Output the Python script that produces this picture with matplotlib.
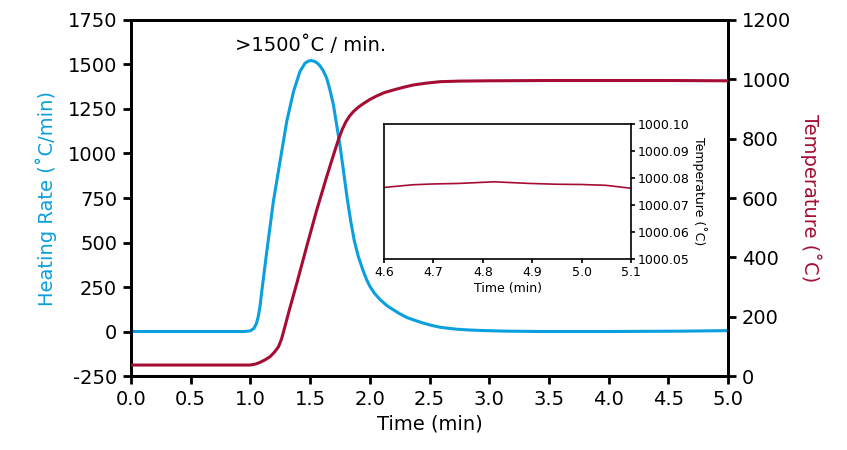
import matplotlib
matplotlib.use("Agg")
import matplotlib.pyplot as plt

# ---- data ----
rate_time = [0.0, 0.5, 0.95, 1.0, 1.03, 1.05, 1.066, 1.08, 1.095, 1.137, 1.192, 1.248,
             1.304, 1.361, 1.415, 1.457, 1.485, 1.508, 1.535, 1.56, 1.583, 1.61, 1.639,
             1.665, 1.695, 1.72, 1.751, 1.78, 1.81, 1.84, 1.87, 1.904, 1.945, 1.974, 2.0,
             2.04, 2.085, 2.14, 2.197, 2.25, 2.309, 2.38, 2.449, 2.52, 2.588, 2.66, 2.728,
             2.82, 2.923, 3.03, 3.147, 3.3, 3.425, 3.7, 4.0, 4.3, 4.6, 5.0]
heating_rate = [0, 0, 0, 4, 18, 45, 85, 140, 225, 449, 730, 955,
                1180, 1348, 1461, 1507, 1519, 1522, 1518, 1508, 1492, 1465, 1423,
                1360, 1274, 1170, 1040, 900, 750, 620, 510, 420, 340, 290, 254,
                214, 180, 147, 122, 100, 79, 62, 47, 34, 24, 18, 13,
                9, 6, 4, 2, 1, 0, 0, 0, 1, 2, 5]

temp_time = [0.0, 0.5, 0.997, 1.04, 1.08, 1.12, 1.164, 1.2, 1.234, 1.26, 1.29, 1.318,
             1.388, 1.471, 1.555, 1.639, 1.709, 1.74, 1.77, 1.80, 1.83, 1.862, 1.9,
             1.946, 2.0, 2.058, 2.12, 2.197, 2.28, 2.365, 2.47, 2.588, 2.75, 3.0, 3.5,
             4.0, 4.5, 5.0]
temperature = [37, 37, 37, 40, 46, 54, 65, 80, 98, 124, 168, 211,
               312, 436, 559, 672, 762, 800, 832, 857, 876, 891, 905,
               918, 932, 944, 955, 964, 973, 981, 987, 992, 994, 995, 996,
               996, 996, 995]

inset_time = [4.6, 4.658, 4.70, 4.752, 4.823, 4.894, 4.948, 5.0, 5.049, 5.1]
inset_temp = [1000.0765, 1000.0775, 1000.0778, 1000.0780, 1000.0786, 1000.0780,
              1000.0777, 1000.0776, 1000.0773, 1000.0762]

rate_ticks = [-250, 0, 250, 500, 750, 1000, 1250, 1500, 1750]
temp_ticks = [0, 200, 400, 600, 800, 1000, 1200]
time_ticks = [0.0, 0.5, 1.0, 1.5, 2.0, 2.5, 3.0, 3.5, 4.0, 4.5, 5.0]
inset_x_ticks = [4.6, 4.7, 4.8, 4.9, 5.0, 5.1]
inset_y_ticks = [1000.05, 1000.06, 1000.07, 1000.08, 1000.09, 1000.10]

BLUE = "#0A9FDD"
RED = "#A50D34"

plt.rcParams['font.family'] = ['DejaVu Sans']
plt.rcParams['axes.unicode_minus'] = False

fig = plt.figure(figsize=(8.47, 4.5), dpi=100)
ax = fig.add_axes([0.1547, 0.1644, 0.7048, 0.7912])
ax2 = ax.twinx()

ax.plot(rate_time, heating_rate, color=BLUE, lw=2.2, zorder=3, solid_joinstyle='round')
ax2.plot(temp_time, temperature, color=RED, lw=2.2, zorder=3, solid_joinstyle='round')

ax.set_xlim(0, 5)
ax.set_ylim(-250, 1750)
ax2.set_ylim(0, 1200)
ax.set_xticks(time_ticks)
ax.set_xticklabels([f"{t:.1f}" for t in time_ticks])
ax.set_yticks(rate_ticks)
ax2.set_yticks(temp_ticks)

for a in (ax, ax2):
    for s in a.spines.values():
        s.set_linewidth(2)
    a.tick_params(direction='out', length=6, width=2, labelsize=14, pad=4)

ax.set_xlabel("Time (min)", fontsize=14, labelpad=4)
ax.set_ylabel("Heating Rate (˚C/min)", fontsize=14, color=BLUE, labelpad=8)
ax2.set_ylabel("Temperature (˚C)", fontsize=14, color=RED, rotation=270, labelpad=22)

ax.text(1.5, 1610, ">1500˚C / min.", fontsize=14, ha='center', va='center')

# inset
ins = fig.add_axes([0.4534, 0.4244, 0.2916, 0.3])
ins.plot(inset_time, inset_temp, color=RED, lw=1.2)
ins.set_xlim(4.6, 5.1)
ins.set_ylim(1000.05, 1000.10)
ins.set_xticks(inset_x_ticks)
ins.set_xticklabels([f"{t:.1f}" for t in inset_x_ticks])
ins.yaxis.tick_right()
ins.yaxis.set_label_position('right')
ins.set_yticks(inset_y_ticks)
ins.set_yticklabels([f"{v:.2f}" for v in inset_y_ticks])
for s in ins.spines.values():
    s.set_linewidth(1.2)
ins.tick_params(direction='out', length=3, width=1.2, labelsize=9, pad=2)
ins.set_xlabel("Time (min)", fontsize=9, labelpad=2)
ins.set_ylabel("Temperature (˚C)", fontsize=9, rotation=270, labelpad=12)

fig.savefig("out.png", dpi=100)
